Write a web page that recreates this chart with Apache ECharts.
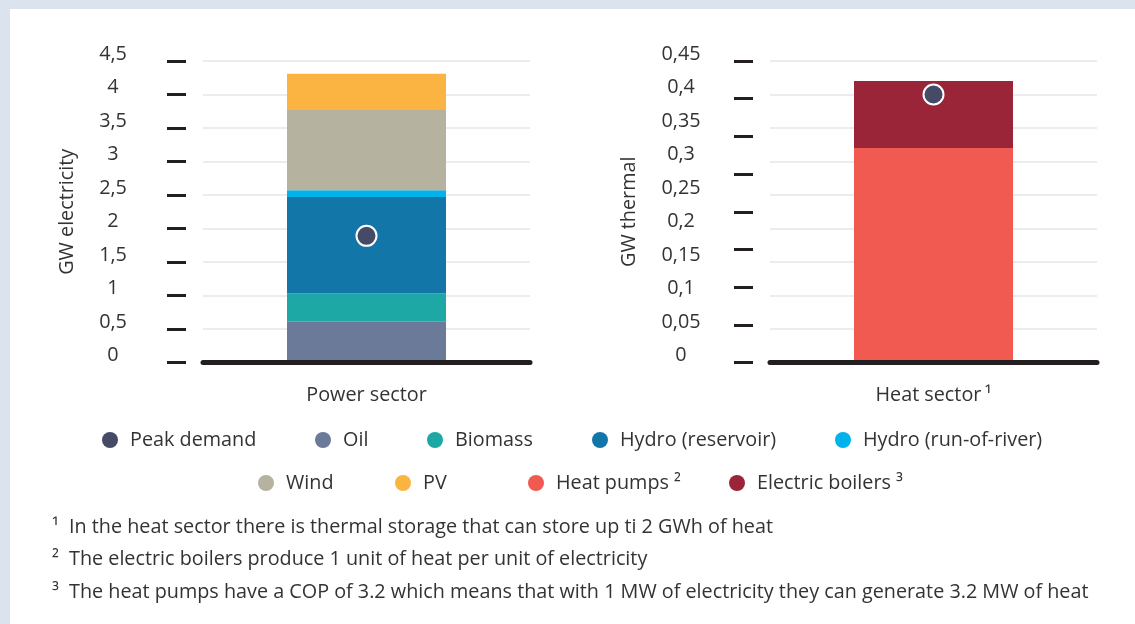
<!DOCTYPE html>
<html>
<head>
<meta charset="utf-8">
<script src="https://cdn.jsdelivr.net/npm/echarts@6/dist/echarts.min.js"></script>
<style>
  html, body { margin: 0; padding: 0; background: #ffffff; }
  #chart { width: 1135px; height: 624px; }
</style>
</head>
<body>
<div id="chart"></div>
<script>
// Sector categories
const powerCategories = ['Power sector'];
const heatCategories = ['Heat sector\u2009¹'];

// Power sector capacities, GW electricity
const oil = [0.61];
const biomass = [0.42];
const hydroReservoir = [1.44];
const hydroRunOfRiver = [0.10];
const wind = [1.20];
const pv = [0.54];
const peakDemandPower = [1.89];

// Heat sector capacities, GW thermal
const heatPumps = [0.32];
const electricBoilers = [0.10];
const peakDemandHeat = [0.40];

// Axis tick values
const electricityTicks = [0, 0.5, 1, 1.5, 2, 2.5, 3, 3.5, 4, 4.5];
const thermalTicks = [0, 0.05, 0.1, 0.15, 0.2, 0.25, 0.3, 0.35, 0.4, 0.45];
const thermalMarkCount = 8; // dash marks beside the thermal axis

// Footnotes
const footnotes = [
  ['¹', 'In the heat sector there is thermal storage that can store up ti 2 GWh of heat'],
  ['²', 'The electric boilers produce 1 unit of heat per unit of electricity'],
  ['³', 'The heat pumps have a COP of 3.2 which means that with 1 MW of electricity they can generate 3.2 MW of heat']
];

const colors = {
  'Peak demand': '#454b66',
  'Oil': '#6b7a99',
  'Biomass': '#1ea8a5',
  'Hydro (reservoir)': '#1277a8',
  'Hydro (run-of-river)': '#00b1eb',
  'Wind': '#b5b3a0',
  'PV': '#fbb342',
  'Heat pumps': '#f05a50',
  'Electric boilers': '#9a2438'
};
const superscripts = { 'Heat pumps': ' ²', 'Electric boilers': ' ³' };

const FONT = 'Open Sans';
const FS = 19.8;
const TEXT = '#333333';
const DARK = '#231f20';

const decimalComma = v => String(+v.toFixed(4)).replace('.', ',');

function valueAxis(grid, ticks, name, nameGap, labelMargin) {
  const step = ticks[1] - ticks[0];
  return {
    type: 'value', gridIndex: grid, position: 'left',
    min: ticks[0], max: ticks[ticks.length - 1], interval: step,
    name: name, nameLocation: 'middle', nameRotate: 90, nameGap: nameGap,
    nameTextStyle: { fontSize: FS, color: TEXT, fontFamily: FONT },
    axisLine: { show: false }, axisTick: { show: false },
    axisLabel: {
      fontSize: FS, color: TEXT, fontFamily: FONT, align: 'center',
      verticalAlign: 'bottom', lineHeight: 14,
      margin: labelMargin, formatter: decimalComma
    },
    splitLine: { show: true, lineStyle: { color: '#e3e7e9', width: 1.5 } }
  };
}

function dashAxis(grid, min, max, interval, offset) {
  return {
    type: 'value', gridIndex: grid, position: 'left', offset: offset,
    min: min, max: max, interval: interval,
    axisLine: { show: false },
    axisTick: { show: true, length: 19, lineStyle: { color: DARK, width: 3 } },
    axisLabel: { show: false }, splitLine: { show: false }
  };
}

function bar(name, data, xi, yi, stack) {
  return {
    name: name, type: 'bar', stack: stack, data: data,
    xAxisIndex: xi, yAxisIndex: yi, barWidth: 159,
    itemStyle: { color: colors[name] }, emphasis: { disabled: true }
  };
}

function peak(data, xi, yi) {
  return {
    name: 'Peak demand', type: 'scatter', data: data, z: 5,
    xAxisIndex: xi, yAxisIndex: yi, symbol: 'circle', symbolSize: 20,
    itemStyle: { color: colors['Peak demand'], opacity: 1, borderColor: '#ffffff', borderWidth: 2 }
  };
}

function categoryAxis(grid, data) {
  return {
    type: 'category', gridIndex: grid, data: data,
    axisLine: { show: true, lineStyle: { color: DARK, width: 5 } },
    axisTick: { show: false },
    axisLabel: { fontSize: FS, color: TEXT, fontFamily: FONT, margin: 23 },
    z: 10
  };
}

// Legend rows: [name, icon x]
const legendRows = [
  { top: 430, items: [['Peak demand', 102], ['Oil', 315], ['Biomass', 427], ['Hydro (reservoir)', 592], ['Hydro (run-of-river)', 835]] },
  { top: 473, items: [['Wind', 258], ['PV', 395], ['Heat pumps', 528], ['Electric boilers', 729]] }
];
const legends = [];
legendRows.forEach(row => row.items.forEach(([name, x]) => {
  legends.push({
    data: [name], left: x, top: row.top, icon: 'circle',
    itemWidth: 30, itemHeight: 16, padding: 0,
    itemStyle: { borderWidth: 0, opacity: 1 },
    formatter: n => n + (superscripts[n] || ''),
    textStyle: { fontSize: FS, color: TEXT, fontFamily: FONT }
  });
}));

const graphics = [
  { type: 'rect', shape: { x: 0, y: 0, width: 1135, height: 9 }, style: { fill: '#dbe3ee' } },
  { type: 'rect', shape: { x: 0, y: 0, width: 10, height: 624 }, style: { fill: '#dbe3ee' } }
];
footnotes.forEach(([mark, text], i) => {
  const y = 527 + i * 32.5;
  graphics.push({ type: 'text', x: 52, y: y, style: { text: mark, fontSize: FS, fill: TEXT, fontFamily: FONT, verticalAlign: 'middle' } });
  graphics.push({ type: 'text', x: 69, y: y, style: { text: text, fontSize: FS, fill: TEXT, fontFamily: FONT, verticalAlign: 'middle' } });
});

const option = {
  animation: false,
  backgroundColor: '#ffffff',
  textStyle: { fontFamily: FONT },
  grid: [
    { left: 203, top: 61, width: 327, height: 301.5 },
    { left: 770, top: 61, width: 327, height: 301.5 }
  ],
  xAxis: [categoryAxis(0, powerCategories), categoryAxis(1, heatCategories)],
  yAxis: [
    valueAxis(0, electricityTicks, 'GW electricity', 126, 90),
    dashAxis(0, electricityTicks[0], electricityTicks[electricityTicks.length - 1], electricityTicks[1] - electricityTicks[0], 17),
    valueAxis(1, thermalTicks, 'GW thermal', 131, 89),
    dashAxis(1, thermalTicks[0], thermalTicks[thermalTicks.length - 1], (thermalTicks[thermalTicks.length - 1] - thermalTicks[0]) / thermalMarkCount, 17)
  ],
  legend: legends,
  series: [
    bar('Oil', oil, 0, 0, 'power'),
    bar('Biomass', biomass, 0, 0, 'power'),
    bar('Hydro (reservoir)', hydroReservoir, 0, 0, 'power'),
    bar('Hydro (run-of-river)', hydroRunOfRiver, 0, 0, 'power'),
    bar('Wind', wind, 0, 0, 'power'),
    bar('PV', pv, 0, 0, 'power'),
    bar('Heat pumps', heatPumps, 1, 2, 'heat'),
    bar('Electric boilers', electricBoilers, 1, 2, 'heat'),
    peak(peakDemandPower, 0, 0),
    peak(peakDemandHeat, 1, 2)
  ],
  graphic: graphics
};

const chart = echarts.init(document.getElementById('chart'), null, { renderer: 'canvas' });
chart.setOption(option);
</script>
</body>
</html>
